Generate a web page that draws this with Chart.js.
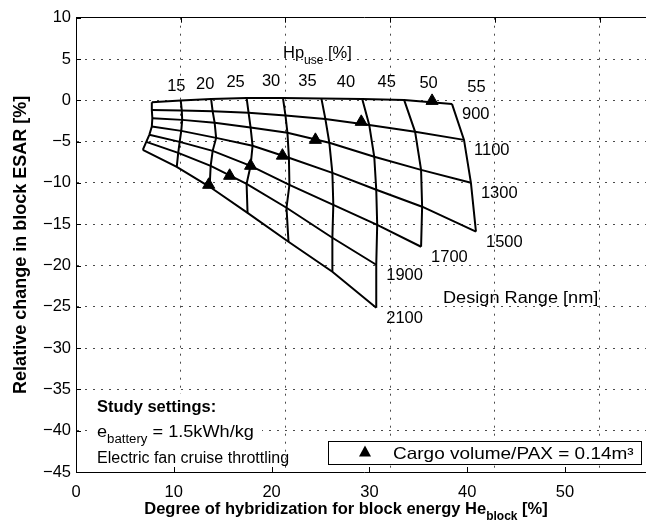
<!DOCTYPE html>
<html>
<head>
<meta charset="utf-8">
<script src="https://cdn.jsdelivr.net/npm/chart.js@4.4.0/dist/chart.umd.min.js"></script>
<style>
  html, body { margin: 0; padding: 0; background: #fff; overflow: hidden; }
  #wrap { position: relative; width: 660px; height: 527px; }
</style>
</head>
<body>
<div id="wrap"><canvas id="carpet" width="660" height="527"></canvas></div>
<script>
// carpet levels
const hpLevels = [15, 20, 25, 30, 35, 40, 45, 50, 55];
const rangeLevels = [900, 1100, 1300, 1500, 1700, 1900, 2100];

// He_block [%] per design range (rows) and Hp_use (columns); null = no converged design
const heBlock = [
  [7.24, 10.00, 12.90, 16.29, 19.76, 23.43, 27.33, 31.33, 35.90],
  [7.24, 10.10, 13.05, 16.48, 20.00, 23.81, 28.00, 32.38, 37.05],
  [7.29, 10.14, 13.24, 16.67, 20.19, 24.19, 28.48, 32.95, 37.71],
  [7.24, 10.05, 13.38, 16.86, 20.33, 24.48, 28.67, 33.05, 38.19],
  [7.00, 9.90, 13.05, 16.67, 20.38, 24.57, 28.76, 32.95, null],
  [6.71, 9.76, 12.86, 16.29, 20.10, 24.48, 28.67, null, null],
  [6.38, 9.62, 12.76, 16.38, 20.29, 24.48, 28.67, null, null]
];

// relative change in block ESAR [%], same layout as heBlock
const esarChange = [
  [-0.25, -0.01, 0.17, 0.29, 0.29, 0.23, 0.17, 0.05, -0.44],
  [-1.16, -1.22, -1.34, -1.52, -1.83, -2.25, -2.98, -3.82, -4.79],
  [-2.16, -2.37, -2.73, -3.28, -3.94, -5.15, -6.84, -8.42, -9.99],
  [-3.18, -3.70, -4.55, -5.51, -6.96, -8.78, -10.83, -12.88, -15.91],
  [-4.18, -5.03, -6.12, -7.93, -10.23, -12.65, -15.07, -17.73, null],
  [-5.03, -6.36, -7.93, -10.11, -13.01, -16.64, -19.91, null, null],
  [-6.00, -8.05, -10.47, -13.62, -17.13, -20.75, -25.11, null, null]
];

// designs with cargo volume/PAX = 0.14 m^3, one per design range
const cargoHe = [12.67, 14.67, 16.67, 19.71, 22.86, 27.24, 34.00];
const cargoEsar = [-10.23, -9.14, -7.93, -6.70, -4.79, -2.61, -0.07];

const xTickValues = [0, 10, 20, 30, 40, 50];
const yTickValues = [10, 5, 0, -5, -10, -15, -20, -25, -30, -35, -40, -45];

const FONT = "'Liberation Sans', Arial, Helvetica, sans-serif";
const INK = '#000';

function pointsOf(xs, ys) {
  const pts = [];
  xs.forEach((x, i) => { if (x !== null && ys[i] !== null) pts.push({ x, y: ys[i] }); });
  return pts;
}

const datasets = [];
// constant design range lines
rangeLevels.forEach((r, j) => {
  datasets.push({ label: 'R' + r, data: pointsOf(heBlock[j], esarChange[j]),
    showLine: true, borderColor: INK, borderWidth: 2, pointRadius: 0, tension: 0 });
});
// constant Hp_use lines
hpLevels.forEach((hp, i) => {
  datasets.push({ label: 'Hp' + hp,
    data: pointsOf(heBlock.map(row => row[i]), esarChange.map(row => row[i])),
    showLine: true, borderColor: INK, borderWidth: 2, pointRadius: 0, tension: 0 });
});
datasets.push({ label: 'cargo', data: pointsOf(cargoHe, cargoEsar), showLine: false,
  pointStyle: 'triangle', pointRadius: 7, backgroundColor: INK, borderColor: INK, borderWidth: 1 });

function fmt(v) { return v < 0 ? '\u2212' + Math.abs(v) : String(v); }

// text made of plain and subscript parts, y is the baseline; stretch widens it horizontally
function richText(ctx, x, y, parts, size, bold, align, stretch) {
  const k = stretch || 1;
  const fontOf = p => (bold ? 'bold ' : '') + (p[1] ? Math.round(size * 0.75) : size) + 'px ' + FONT;
  let total = 0;
  parts.forEach(p => { ctx.font = fontOf(p); total += ctx.measureText(p[0]).width; });
  total *= k;
  let cx = align === 'center' ? x - total / 2 : (align === 'right' ? x - total : x);
  ctx.save();
  ctx.translate(cx, y);
  ctx.scale(k, 1);
  ctx.textAlign = 'left';
  ctx.textBaseline = 'alphabetic';
  let ox = 0;
  parts.forEach(p => {
    ctx.font = fontOf(p);
    ctx.fillText(p[0], ox, p[1] === 'sub' ? size * 0.38 : 0);
    ox += ctx.measureText(p[0]).width;
  });
  ctx.restore();
}

const carpetText = {
  id: 'carpetText',
  beforeDatasetsDraw(chart) {
    const ctx = chart.ctx;
    const a = chart.chartArea;
    ctx.save();
    ctx.fillStyle = '#fff';
    // study settings panel and legend box sit on top of the grid
    ctx.fillRect(90, 394, 172, a.bottom - 394 - 1);
    ctx.fillRect(328, 441, 313, 23);
    ctx.strokeStyle = INK;
    ctx.lineWidth = 1;
    ctx.strokeRect(328.5, 441.5, 313, 23);
    ctx.restore();
  },
  afterDraw(chart) {
    const ctx = chart.ctx;
    const sx = chart.scales.x, sy = chart.scales.y, sl = chart.scales.xLabel;
    const a = chart.chartArea;
    ctx.save();
    ctx.fillStyle = INK;
    ctx.strokeStyle = INK;

    // inward tick marks
    ctx.lineWidth = 1;
    ctx.beginPath();
    xTickValues.forEach(v => {
      const p = Math.round(sx.getPixelForValue(v)) + 0.5;
      ctx.moveTo(p, a.top); ctx.lineTo(p, a.top + 5);
      const q = Math.round(sl.getPixelForValue(v)) + 0.5;
      ctx.moveTo(q, a.bottom); ctx.lineTo(q, a.bottom - 5);
    });
    yTickValues.forEach(v => {
      const p = Math.round(sy.getPixelForValue(v)) + 0.5;
      ctx.moveTo(a.left, p); ctx.lineTo(a.left + 5, p);
    });
    ctx.stroke();

    // Hp_use labels above each line, design range labels at each line end
    ctx.font = '16.5px ' + FONT;
    ctx.textAlign = 'center';
    ctx.textBaseline = 'middle';
    hpLevels.forEach((hp, i) => {
      const px = sx.getPixelForValue(heBlock[0][i]);
      const py = sy.getPixelForValue(esarChange[0][i]);
      ctx.fillText(String(hp), px + 24.5, py - 16);
    });
    ctx.textAlign = 'left';
    rangeLevels.forEach((r, j) => {
      const pts = pointsOf(heBlock[j], esarChange[j]);
      const end = pts[pts.length - 1];
      ctx.fillText(String(r), sx.getPixelForValue(end.x) + 10, sy.getPixelForValue(end.y) + 11);
    });

    richText(ctx, 283, 58, [['Hp'], ['use', 'sub'], [' [%]']], 16.5, false, 'left');
    richText(ctx, 443, 303, [['Design Range [nm]']], 16.5, false, 'left', 1.1);

    richText(ctx, 97, 412, [['Study settings:']], 16.5, true, 'left');
    richText(ctx, 97, 437, [['e'], ['battery', 'sub'], [' = 1.5kWh/kg']], 16.5, false, 'left', 1.1);
    richText(ctx, 97, 463, [['Electric fan cruise throttling']], 16, false, 'left');

    // legend entry
    ctx.beginPath();
    ctx.moveTo(365, 445.5); ctx.lineTo(371, 456.5); ctx.lineTo(359, 456.5);
    ctx.closePath();
    ctx.fill();
    richText(ctx, 393, 459, [['Cargo volume/PAX = 0.14m\u00B3']], 16.5, false, 'left', 1.15);

    // axis titles
    richText(ctx, 346, 514, [['Degree of hybridization for block energy He'], ['block', 'sub'], [' [%]']], 16.5, true, 'center');
    ctx.translate(26, (a.top + a.bottom) / 2);
    ctx.rotate(-Math.PI / 2);
    richText(ctx, 0, 0, [['Relative change in block ESAR [%]']], 18, true, 'center');
    ctx.restore();
  }
};

const dotGrid = { color: '#4a4a4a', lineWidth: 1, drawTicks: false };
const dotBorder = { display: true, color: INK, width: 1, dash: [2, 6] };

new Chart(document.getElementById('carpet'), {
  type: 'scatter',
  data: { datasets },
  options: {
    responsive: false,
    animation: false,
    events: [],
    layout: { padding: { top: 17.7, right: 6.5, left: 0, bottom: 0 } },
    plugins: { legend: { display: false }, tooltip: { enabled: false } },
    scales: {
      x: {
        type: 'linear', position: 'bottom', min: 0, max: 55, weight: 0,
        afterBuildTicks: s => { s.ticks = xTickValues.map(v => ({ value: v })); },
        ticks: { display: false },
        grid: dotGrid,
        border: dotBorder,
        afterFit: s => { s.height = 0; }
      },
      xLabel: {
        type: 'linear', position: 'bottom', min: 0, max: 58.9, weight: 1,
        afterBuildTicks: s => { s.ticks = xTickValues.map(v => ({ value: v })); },
        ticks: { color: INK, font: { family: FONT, size: 16.5 }, padding: 11, maxRotation: 0, callback: fmt },
        grid: { display: false, drawTicks: false },
        border: { display: false },
        afterFit: s => { s.height = 527 - 472; }
      },
      xTop: {
        type: 'linear', position: 'top', min: 0, max: 55,
        ticks: { display: false },
        grid: { display: false, drawTicks: false },
        border: { display: true, color: INK, width: 1 },
        afterFit: s => { s.height = 0; }
      },
      y: {
        type: 'linear', position: 'left', min: -45, max: 10,
        afterBuildTicks: s => { s.ticks = yTickValues.map(v => ({ value: v })); },
        ticks: { color: INK, font: { family: FONT, size: 16.5 }, padding: 5, callback: fmt },
        grid: dotGrid,
        border: dotBorder,
        afterFit: s => { s.width = 76; }
      }
    }
  },
  plugins: [carpetText]
});
</script>
</body>
</html>
